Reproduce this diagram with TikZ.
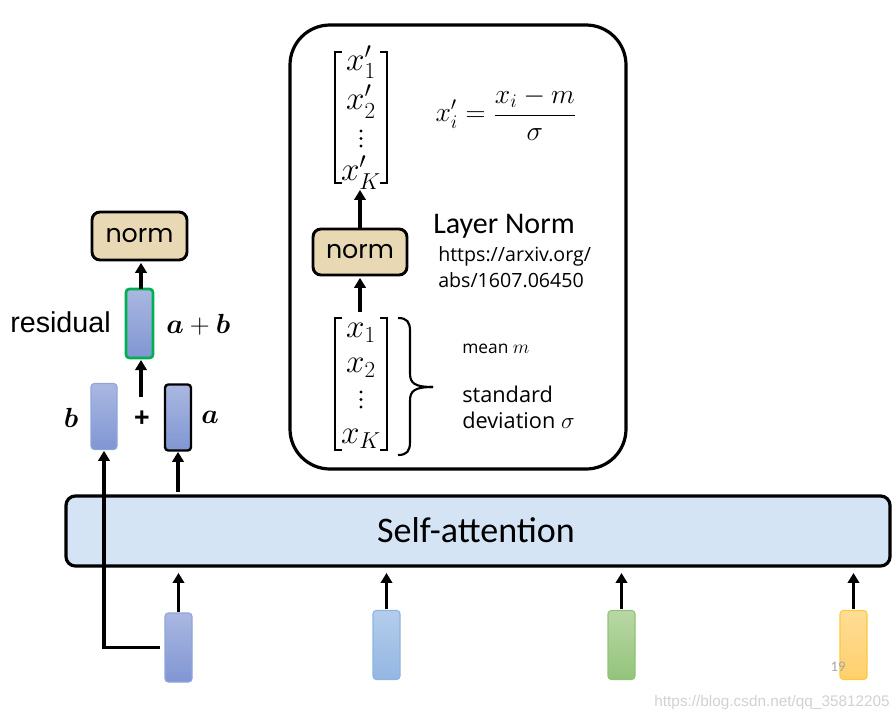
\documentclass[tikz,border=0pt]{standalone}
\usepackage[no-math]{fontspec}
\usepackage{amsmath,bm}
\setmainfont{Carlito}
\newfontfamily\poppins{Poppins}
\newfontfamily\arialf{Liberation Sans}
\newfontfamily\osans{Open Sans}
\usetikzlibrary{arrows.meta,calc}
\definecolor{tan}{HTML}{E8D8B4}
\definecolor{barblue}{HTML}{D5E4F5}
\definecolor{resgreen}{HTML}{00B050}
\definecolor{purtop}{HTML}{AAB7E1}
\definecolor{purbot}{HTML}{8096D3}
\definecolor{purline}{HTML}{8EA5DA}
\definecolor{lbtop}{HTML}{B5CDEB}
\definecolor{lbbot}{HTML}{93B6E2}
\definecolor{lbline}{HTML}{8CB4E3}
\definecolor{grtop}{HTML}{B9D7A5}
\definecolor{grbot}{HTML}{93C47B}
\definecolor{grline}{HTML}{8FC375}
\definecolor{yetop}{HTML}{FFDD96}
\definecolor{yebot}{HTML}{FFD06C}
\definecolor{yeline}{HTML}{FFC940}
\begin{document}
\begin{tikzpicture}[x=0.75pt,y=-0.75pt,
  arr/.style={line width=2.4pt,-{Triangle[length=7.5pt,width=8.5pt]}},
  vecbox/.style={rectangle,rounded corners=2.5pt,minimum width=20.25pt,minimum height=51.75pt,inner sep=0pt,outer sep=0pt,line width=0.8pt},
  purplev/.style={vecbox,top color=purtop,bottom color=purbot,draw=purline},
  normbox/.style={rectangle,rounded corners=6pt,fill=tan,draw=black,line width=2.2pt,inner sep=0pt,font=\poppins\fontsize{19}{22}\selectfont},
  brk/.style={line width=1.6pt},
  lbl/.style={inner sep=0pt,anchor=base west},
  mlbl/.style={inner sep=0pt,anchor=base},
  vdot/.style={circle,fill=black,inner sep=0pt,minimum size=2.6pt},
]
\useasboundingbox (0,0) rectangle (896,724);

% self-attention bar
\node[rectangle,rounded corners=7pt,fill=barblue,draw=black,line width=2.4pt,minimum width=618pt,minimum height=52.5pt,inner sep=0pt] (bar) at (478,531) {};
\node[mlbl,font=\fontsize{27}{32}\selectfont] (satext) at (476,542) {Self-attention};

% bottom vectors
\node[purplev] (v1) at (178.5,647.5) {};
\node[vecbox,top color=lbtop,bottom color=lbbot,draw=lbline] (v2) at (386.5,645) {};
\node[vecbox,top color=grtop,bottom color=grbot,draw=grline] (v3) at (621.5,645) {};
\node[vecbox,top color=yetop,bottom color=yebot,draw=yeline] (v4) at (853.5,645) {};
\foreach \v in {v1,v2,v3,v4}
  \draw[arr,shorten >=4pt,shorten <=1pt] (\v.north) -- (\v.north |- bar.south);

% b, a vectors
\node[purplev,minimum width=19.5pt,minimum height=49.5pt] (vb) at (104,416.5) {};
\node[vecbox,top color=purtop,bottom color=purbot,draw=black,line width=1.8pt,minimum width=19.5pt,minimum height=49.5pt] (va) at (178,417.5) {};
\node[mlbl,font=\fontsize{22}{26}\selectfont] (lb) at (71,427) {$\bm{b}$};
\node[mlbl,font=\fontsize{22}{26}\selectfont] (la) at (210,423) {$\bm{a}$};
\node[inner sep=0pt,font=\arialf\bfseries\fontsize{20}{24}\selectfont] (plus) at (142,419) {+};

% bypass and a arrow
\draw[arr,shorten <=4pt,shorten >=1pt] (v1.west) -| (vb.south);
\draw[arr,shorten <=2pt,shorten >=1pt] (va.south |- bar.north) -- (va.south);

% residual
\coordinate (sumtail) at (141,397);
\node[vecbox,top color=purtop,bottom color=purbot,draw=resgreen,line width=2pt] (res) at (139.5,323.5) {};
\draw[arr,shorten >=1.5pt] (sumtail) -- (res.south -| sumtail);
\node[lbl,font=\arialf\fontsize{21.5}{26}\selectfont] (restext) at (10,332) {residual};
\node[lbl,font=\fontsize{22}{26}\selectfont] (abtext) at (166,333) {$\bm{a}+\bm{b}$};

% norm (left)
\node[normbox,minimum width=71.25pt,minimum height=36pt] (norm1) at (139.5,236) {norm};
\draw[arr,shorten >=1pt] (res.north -| sumtail) -- (norm1.south -| sumtail);

% Layer norm panel
\node[rectangle,rounded corners=30pt,draw=black,line width=2.4pt,minimum width=252pt,minimum height=333pt,inner sep=0pt] (panel) at (458,247) {};

\node[inner sep=0pt,minimum width=38.25pt,minimum height=98.25pt] (topvec) at (361,117.5) {};
\node[inner sep=0pt,minimum width=38.25pt,minimum height=99pt] (botvec) at (361,384) {};
\foreach \n in {topvec,botvec}{
  \draw[brk] ($(\n.north west)+(7,0)$) -- (\n.north west) -- (\n.south west) -- ++(7,0);
  \draw[brk] ($(\n.north east)+(-7,0)$) -- (\n.north east) -- (\n.south east) -- ++(-7,0);
}
\node[inner sep=0pt,font=\fontsize{23}{26.5}\selectfont] (topcol) at (361,118.5)
  {$\begin{array}{@{}c@{}} x'_1\\[3pt] x'_2\\ {}\\ x'_K\end{array}$};
\node[inner sep=0pt,font=\fontsize{23}{26.5}\selectfont] (botcol) at (361,383)
  {$\begin{array}{@{}c@{}} x_1\\ x_2\\ {}\\ x_K\end{array}$};
\foreach \yy [count=\i] in {131,138.5,146} \node[vdot] (tdot\i) at (361,\yy) {};
\foreach \yy [count=\i] in {392,399.5,407} \node[vdot] (bdot\i) at (361,\yy) {};

\node[normbox,minimum width=70.5pt,minimum height=34.5pt] (norm2) at (360,252) {norm};
\draw[arr,shorten <=4.5pt,shorten >=1pt] (botvec.north -| norm2.south) -- (norm2.south);
\draw[arr,shorten >=5pt] (norm2.north) -- (topvec.south -| norm2.north);

\draw[line width=1.6pt] (398,318) .. controls (407,318) and (410,322) .. (410,331) -- (410,373) .. controls (410,383) and (414,387) .. (433,387);
\draw[line width=1.6pt] (433,387) .. controls (414,387) and (410,391) .. (410,401) -- (410,442) .. controls (410,451) and (407,455) .. (398,455);

\node[mlbl,font=\fontsize{22.5}{26}\selectfont] (formula) at (506,122) {$\displaystyle x'_i=\frac{x_i-m}{\sigma}$};
\node[lbl,font=\fontsize{22.5}{26}\selectfont] (lntext) at (433,233) {Layer Norm};
\node[lbl,font=\osans\fontsize{14.7}{18}\selectfont] (url1) at (438,261) {https://arxiv.org/};
\node[lbl,font=\osans\fontsize{14.7}{18}\selectfont] (url2) at (438,287) {abs/1607.06450};
\node[lbl,font=\osans\fontsize{13}{16}\selectfont] (mean) at (462,353) {mean \fontsize{15}{16}\selectfont$m$};
\node[lbl,font=\osans\fontsize{16.3}{19}\selectfont] (std1) at (462,402) {standard};
\node[lbl,font=\osans\fontsize{16.3}{19}\selectfont] (std2) at (462,428) {deviation \fontsize{19}{20}\selectfont$\sigma$};

% page number and watermark
\node[inner sep=0pt,text=black!35,font=\fontsize{11}{13}\selectfont] (pg) at (838,667) {19};
\node[inner sep=0pt,anchor=east,text=black!18,font=\arialf\fontsize{11.5}{14}\selectfont] (wm) at (890,703) {https://blog.csdn.net/qq\_35812205};
\end{tikzpicture}
\end{document}
